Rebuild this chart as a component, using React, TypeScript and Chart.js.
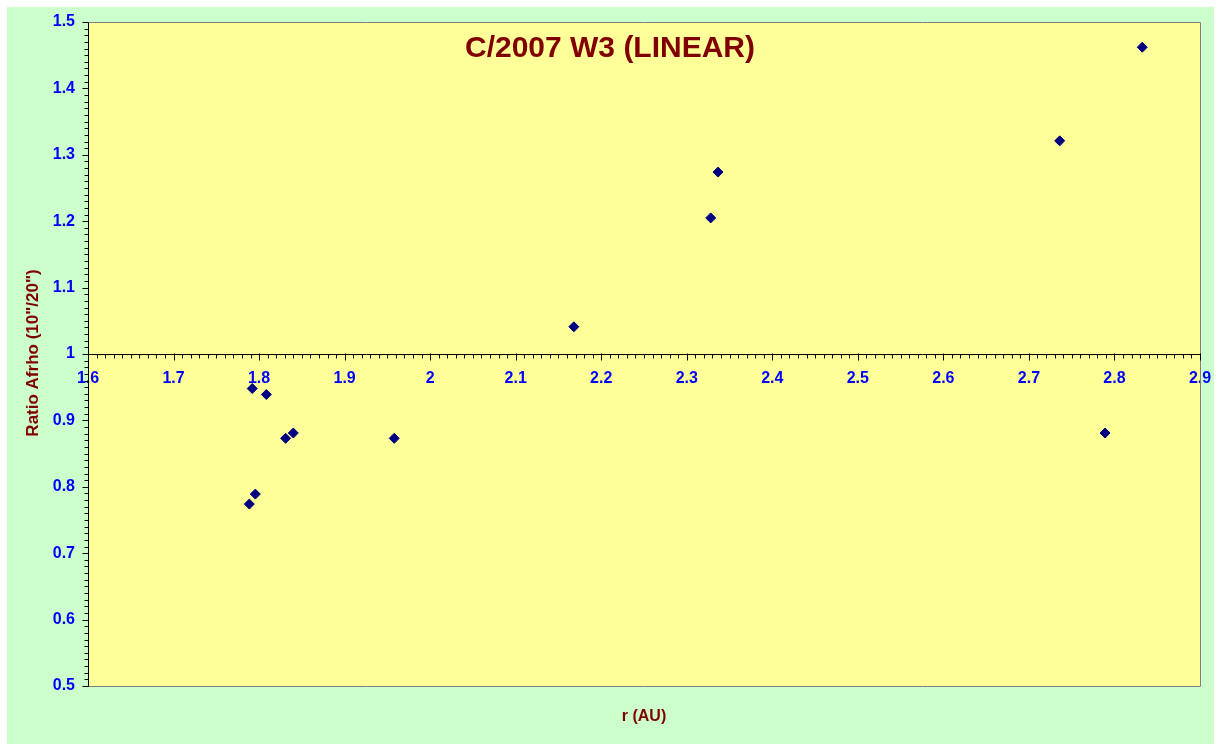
import { useEffect, useRef } from "react";
import { Chart, registerables } from "chart.js";

Chart.register(...registerables);

const rAU = [1.792, 1.8085, 1.831, 1.84, 1.958, 1.7956, 1.7886, 2.168, 2.328, 2.3365, 2.736, 2.789, 2.8325];
const ratioAfrho = [0.948, 0.939, 0.873, 0.881, 0.873, 0.789, 0.774, 1.041, 1.205, 1.274, 1.321, 0.881, 1.462];

const X_TICKS = [1.6, 1.7, 1.8, 1.9, 2.0, 2.1, 2.2, 2.3, 2.4, 2.5, 2.6, 2.7, 2.8, 2.9];
const Y_TICKS = [0.5, 0.6, 0.7, 0.8, 0.9, 1.0, 1.1, 1.2, 1.3, 1.4, 1.5];

const TITLE = "C/2007 W3 (LINEAR)";
const X_TITLE = "r (AU)";
const Y_TITLE = 'Ratio Afrho (10"/20")';

const FONT = "Arial, 'Liberation Sans', sans-serif";
const fmt = (v: number) => String(+Number(v).toFixed(2));

const decor = {
  id: "decor",
  beforeDraw(chart: any) {
    const { ctx, chartArea: a } = chart;
    ctx.save();
    ctx.fillStyle = "#ffff99";
    ctx.fillRect(a.left, a.top, a.right - a.left, a.bottom - a.top);
    ctx.restore();
  },
  beforeDatasetsDraw(chart: any) {
    const { ctx, chartArea: a, scales } = chart;
    const xs = scales.x;
    const ys = scales.y;
    const L = Math.round(a.left) + 0.5;
    const R = Math.round(a.right) + 0.5;
    const T = Math.round(a.top) + 0.5;
    const B = Math.round(a.bottom) + 0.5;
    const y1 = Math.round(ys.getPixelForValue(1)) + 0.5;
    ctx.save();
    ctx.lineWidth = 1;
    ctx.strokeStyle = "#808080";
    ctx.beginPath();
    ctx.moveTo(L, T);
    ctx.lineTo(R, T);
    ctx.lineTo(R, B);
    ctx.lineTo(L, B);
    ctx.stroke();
    ctx.strokeStyle = "#000000";
    ctx.beginPath();
    ctx.moveTo(L, T);
    ctx.lineTo(L, B);
    ctx.moveTo(L, y1);
    ctx.lineTo(R, y1);
    for (let i = 50; i <= 150; i++) {
      const py = Math.round(ys.getPixelForValue(i / 100)) + 0.5;
      const len = i % 10 === 0 ? 6 : 4;
      ctx.moveTo(L - len, py);
      ctx.lineTo(L, py);
    }
    for (let i = 160; i <= 290; i++) {
      const px = Math.round(xs.getPixelForValue(i / 100)) + 0.5;
      if (i % 10 === 0) {
        ctx.moveTo(px, y1 - 1);
        ctx.lineTo(px, y1 + 6);
      } else {
        ctx.moveTo(px, y1);
        ctx.lineTo(px, y1 + 4);
      }
    }
    ctx.stroke();
    ctx.fillStyle = "#800000";
    ctx.textAlign = "center";
    ctx.textBaseline = "middle";
    ctx.font = `bold 30px ${FONT}`;
    ctx.fillText(TITLE, 603, 42);
    ctx.font = `bold 16px ${FONT}`;
    ctx.fillText(X_TITLE, (a.left + a.right) / 2, 710);
    ctx.font = `bold 17px ${FONT}`;
    ctx.translate(26, (a.top + a.bottom) / 2 - 1);
    ctx.rotate(-Math.PI / 2);
    ctx.fillText(Y_TITLE, 0, 0);
    ctx.restore();
  },
};

export default function App() {
  const ref = useRef<HTMLCanvasElement | null>(null);
  useEffect(() => {
    if (!ref.current) return;
    Chart.defaults.font.family = FONT;
    const chart = new Chart(ref.current, {
      type: "scatter",
      data: {
        datasets: [
          {
            label: "Ratio",
            data: rAU.map((r, i) => ({ x: r, y: ratioAfrho[i] })),
            pointStyle: "rectRot",
            pointRadius: 5,
            pointHoverRadius: 5,
            backgroundColor: "#000080",
            borderColor: "#000080",
            borderWidth: 1,
          },
        ],
      },
      options: {
        animation: false,
        responsive: false,
        maintainAspectRatio: false,
        events: [],
        layout: { padding: { left: 0, top: 15, right: 14, bottom: 58 } },
        plugins: {
          legend: { display: false },
          tooltip: { enabled: false },
          title: { display: false },
        },
        scales: {
          x: {
            type: "linear",
            position: { y: 1 } as any,
            min: 1.6,
            max: 2.9,
            afterBuildTicks: (s: any) => {
              s.ticks = X_TICKS.map((v) => ({ value: v }));
            },
            afterFit: (s: any) => {
              s.paddingLeft = 0;
              s.paddingRight = 0;
            },
            ticks: {
              color: "#0000ff",
              font: { size: 16, weight: "bold" },
              padding: 9,
              maxRotation: 0,
              autoSkip: false,
              callback: (v: any) => fmt(v),
            },
            grid: {
              display: true,
              drawOnChartArea: false,
              drawTicks: true,
              tickLength: 6,
              color: "rgba(0,0,0,0)",
            },
            border: { display: false },
          },
          y: {
            type: "linear",
            position: "left",
            min: 0.5,
            max: 1.5,
            afterBuildTicks: (s: any) => {
              s.ticks = Y_TICKS.map((v) => ({ value: v }));
            },
            afterFit: (s: any) => {
              s.width = 81;
              s.paddingTop = 0;
              s.paddingBottom = 0;
            },
            ticks: {
              color: "#0000ff",
              font: { size: 16, weight: "bold" },
              padding: 7,
              autoSkip: false,
              callback: (v: any) => fmt(v),
            },
            grid: {
              display: true,
              drawOnChartArea: false,
              drawTicks: true,
              tickLength: 6,
              color: "rgba(0,0,0,0)",
            },
            border: { display: false },
          },
        },
      },
      plugins: [decor],
    });
    return () => chart.destroy();
  }, []);
  return (
    <div
      style={{
        position: "absolute",
        left: 7,
        top: 7,
        width: 1207,
        height: 737,
        background: "#ccffcc",
      }}
    >
      <canvas ref={ref} width={1207} height={737} style={{ display: "block" }} />
    </div>
  );
}
